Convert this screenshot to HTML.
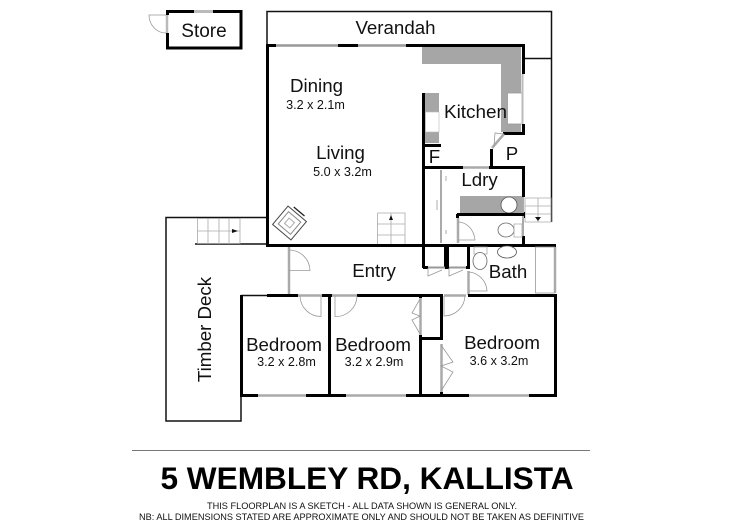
<!DOCTYPE html>
<html><head><meta charset="utf-8"><style>
html,body{margin:0;padding:0;background:#fff}
svg{display:block}
text{font-family:"Liberation Sans",sans-serif;fill:#111}
.w{stroke:#000;stroke-width:3;fill:none}
.t{stroke:#111;stroke-width:1.5;fill:none}
.g{stroke:#aaa;stroke-width:2.5;fill:none}
.a{stroke:#999;stroke-width:.8;fill:none}
.s{stroke:#aaa;stroke-width:.8;fill:none}
</style></head><body>
<svg width="750" height="530" viewBox="0 0 750 530" xmlns="http://www.w3.org/2000/svg">
<rect width="750" height="530" fill="#fff"/>
<!-- counters -->
<path d="M422 47H521V132H501V64H422Z" fill="#a6a6a6"/>
<rect x="425" y="93" width="14" height="50" fill="#a6a6a6"/>
<rect x="460" y="196" width="63" height="17" fill="#a6a6a6"/>
<rect x="425.500" y="112" width="13.500" height="20" fill="#fff" stroke="#bbb" stroke-width=".6"/>
<rect x="507.500" y="93" width="15" height="31" fill="#fff" stroke="#999" stroke-width=".8"/>
<circle cx="509" cy="205" r="8" fill="#fff" stroke="#555" stroke-width=".8"/>
<!-- store -->
<path class="w" d="M167.500 11.500H241V48H167.500Z"/>
<path d="M167 15V33" stroke="#fff" stroke-width="4"/>
<path d="M167 15V33" stroke="#bbb" stroke-width="2.500"/>
<path d="M194 11.500H213" stroke="#bbb" stroke-width="3"/>
<path class="a" d="M166 33A17 18 0 0 1 149 15H166"/>
<!-- verandah -->
<path class="t" d="M267 45V11.500H551.500V222M523 58.500H552"/>
<!-- deck -->
<path class="t" d="M267 217.500H166V421H241V296"/>
<path class="t" d="M195 244H267"/>
<!-- stairs -->
<path class="s" d="M197.500 218.500H240V243.500H197.500ZM208 218V244M219 218V244M229 218V244M197 231H240" stroke="#777"/>
<path d="M232 229l6 2-6 2z" fill="#111"/>
<path class="s" d="M377.500 213H405V245H377.500ZM391 213V245M377 224H405M377 235H405" stroke="#777"/>
<path d="M391 215l2 5h-4z" fill="#111"/>
<path class="s" d="M525 198H551V222H525ZM538 198V222M525 206H551M525 214H551"/>
<path d="M535 217l3 4 3-4z" fill="#111"/>
<!-- living chair -->
<g transform="translate(289.500 223) rotate(40)" fill="none" stroke="#444" stroke-width="1">
<rect x="-12" y="-12" width="24" height="24" fill="#fff"/><rect x="-8" y="-8" width="16" height="16" stroke="#888"/><rect x="-3.500" y="-3.500" width="7" height="7" stroke="#aaa"/><path d="M-7 -15H7" stroke="#222" stroke-width="1.300"/>
</g>
<!-- main walls -->
<path class="w" d="M267.500 44V245"/>
<path class="w" d="M266 45.500H276M338 45.500H358M406 45.500H523.500V74M523.500 124V133"/>
<path d="M276 45.500H338M358 45.500H406" stroke="#999" stroke-width="2.500"/>
<path d="M522.500 74V124" stroke="#bbb" stroke-width="2"/>
<path class="w" d="M423.500 93V268M422 145.500H441M422 167.500H463M489 167.500H524M503 133.500H525M491.500 149V167M523.500 166V197M523.500 212V218M523.500 236V246"/>
<path d="M463 167.500H489" stroke="#aaa" stroke-width="2.500"/>
<path d="M492 148L504 134" stroke="#aaa" stroke-width="2.500"/>
<path class="a" d="M494 146L495 133L504 134"/>
<path d="M523 197V236" stroke="#aaa" stroke-width="2"/>
<path class="w" d="M457 214.500H524M457.500 214V218"/>
<path class="g" d="M458 218V243"/>
<path class="a" d="M458 222A17 20 0 0 1 475 240H458"/>
<path d="M441 170V243" stroke="#aaa" stroke-width="2"/>
<path d="M446 176v5M446 230v4M437 200v10" stroke="#999" stroke-width=".8"/>
<!-- entry wall -->
<path class="w" d="M266 245.500H556"/>
<path class="w" d="M445.500 245V268M447.500 245V268M468.500 245V268M423 267.500H428M445 267.500H449M466 267.500H470"/>
<path d="M428 267.500H445M449 267.500H466" stroke="#999" stroke-width="2"/>
<path class="a" d="M428 268L428 276L442 270M449 268L449 276L463 270"/>
<!-- WCs and bath -->
<ellipse cx="506" cy="230" rx="8" ry="7" fill="#fff" stroke="#666" stroke-width=".8"/>
<path class="s" d="M514 224H522V237H514Z"/>
<path class="s" d="M474 247H487V254H474Z"/>
<ellipse cx="480" cy="261" rx="7" ry="8.500" fill="#fff" stroke="#666" stroke-width=".8"/>
<ellipse cx="507" cy="252" rx="9.500" ry="6" fill="#fff" stroke="#555" stroke-width=".8"/>
<rect x="535.500" y="247" width="19" height="46" fill="#fff" stroke="#999" stroke-width=".8"/>
<path d="M555 247V293" stroke="#aaa" stroke-width="2.500"/>
<path class="g" d="M468.500 271V295"/>
<path class="a" d="M469 272A20 20 0 0 1 487 291H469"/>
<!-- entry door -->
<path d="M289 247V294" stroke="#aaa" stroke-width="2.500"/>
<path class="a" d="M289 250A21 21 0 0 1 310 270.500H289"/>
<!-- bedrooms -->
<path class="t" d="M241 295.500H267"/>
<path class="w" d="M267 295.500H298M322 295.500H332M357 295.500H443M468 295.500H556.500"/>
<path class="w" d="M241.500 295V396M555.500 294V396M329.500 295V395M240 395.500H258M306 395.500H346M406 395.500H469M529 395.500H557"/>
<path d="M258 395.500H306M346 395.500H406M469 395.500H529" stroke="#aaa" stroke-width="2.500"/>
<path d="M298 295.500H322M332 295.500H357M444 295.500H466" stroke="#aaa" stroke-width="2.500"/>
<path class="a" d="M300 296A21 21 0 0 0 321 316.500V296"/>
<path class="a" d="M335 296V316.500A21 21 0 0 0 357 296"/>
<path class="a" d="M444 296V316A21 21 0 0 0 465 296"/>
<path class="w" d="M420.500 295V298M420.500 335V395M441.500 295V338M419 338.500H443M441.500 392V396"/>
<path d="M420.500 298V335M441.500 344V392" stroke="#aaa" stroke-width="2.500"/>
<path class="a" d="M420 299L412 313L420 316L412 320L420 334M441 345L453 362L441 366L453 372L441 391"/>
<!-- labels -->
<text x="204" y="37" font-size="19" text-anchor="middle">Store</text>
<text x="395.500" y="34" font-size="18.700" text-anchor="middle">Verandah</text>
<text x="316.500" y="92" font-size="18.700" text-anchor="middle">Dining</text>
<text x="315.500" y="109" font-size="12.600" text-anchor="middle">3.2 x 2.1m</text>
<text x="340.500" y="159" font-size="18.700" text-anchor="middle">Living</text>
<text x="342.500" y="176" font-size="12.600" text-anchor="middle">5.0 x 3.2m</text>
<text x="475.500" y="118" font-size="18.900" text-anchor="middle">Kitchen</text>
<text x="434.500" y="163" font-size="18.700" text-anchor="middle">F</text>
<text x="512" y="160" font-size="18.700" text-anchor="middle">P</text>
<text x="479.500" y="186" font-size="18.700" text-anchor="middle">Ldry</text>
<text x="508" y="278" font-size="18.700" text-anchor="middle">Bath</text>
<text x="374" y="277" font-size="18.700" text-anchor="middle">Entry</text>
<text transform="translate(211 329.500) rotate(-90)" font-size="18.700" text-anchor="middle">Timber Deck</text>
<text x="284" y="351" font-size="18.700" text-anchor="middle">Bedroom</text>
<text x="286.500" y="366" font-size="12.600" text-anchor="middle">3.2 x 2.8m</text>
<text x="373" y="351" font-size="18.700" text-anchor="middle">Bedroom</text>
<text x="374" y="366" font-size="12.600" text-anchor="middle">3.2 x 2.9m</text>
<text x="502" y="349" font-size="18.700" text-anchor="middle">Bedroom</text>
<text x="499" y="365" font-size="12.600" text-anchor="middle">3.6 x 3.2m</text>
<!-- footer -->
<path d="M132 450.500H590" stroke="#777" stroke-width="1"/>
<text x="367" y="489" font-size="31.600" font-weight="bold" text-anchor="middle" style="fill:#000">5 WEMBLEY RD, KALLISTA</text>
<text x="362" y="509" font-size="9.400" text-anchor="middle" textLength="310" lengthAdjust="spacingAndGlyphs">THIS FLOORPLAN IS A SKETCH - ALL DATA SHOWN IS GENERAL ONLY.</text>
<text x="361.500" y="520" font-size="9.400" text-anchor="middle" textLength="445" lengthAdjust="spacingAndGlyphs">NB: ALL DIMENSIONS STATED ARE APPROXIMATE ONLY AND SHOULD NOT BE TAKEN AS DEFINITIVE</text>
</svg>
</body></html>
